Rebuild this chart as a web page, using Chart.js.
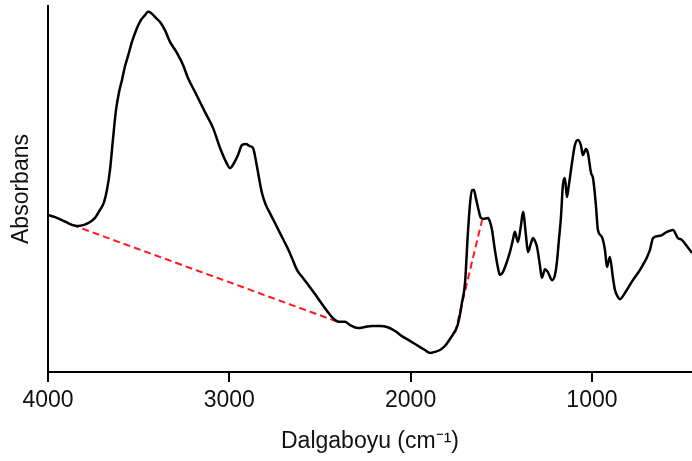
<!DOCTYPE html>
<html>
<head>
<meta charset="utf-8">
<script src="https://cdn.jsdelivr.net/npm/chart.js@4.4.1/dist/chart.umd.min.js"></script>
<style>
  html, body { margin: 0; padding: 0; background: #ffffff; }
  #wrap { width: 692px; height: 461px; }
</style>
</head>
<body>
<div id="wrap"><canvas id="c" width="692" height="461"></canvas></div>
<script>
// Spectrum (wavenumber cm-1, absorbance in arbitrary units)
const wavenumbers = [
  4000, 3961, 3923, 3890, 3868, 3835, 3801, 3768, 3741, 3713, 3691, 3675, 3658, 3642, 3625, 3608,
  3592, 3575, 3559, 3537, 3509, 3487, 3465, 3449, 3432, 3410, 3382, 3355, 3327, 3289, 3255, 3228,
  3189, 3134, 3090, 3051, 3018, 2996, 2974, 2952, 2930, 2908, 2886, 2869, 2847, 2820, 2798, 2776,
  2748, 2721, 2682, 2654, 2627, 2599, 2572, 2544, 2516, 2489, 2461, 2434, 2406, 2390, 2362, 2334,
  2290, 2252, 2213, 2169, 2130, 2086, 2048, 2004, 1948, 1921, 1893, 1866, 1838, 1811, 1783, 1761,
  1744, 1728, 1717, 1700, 1684, 1673, 1662, 1651, 1640, 1629, 1612, 1595, 1573, 1562, 1551, 1535,
  1518, 1507, 1491, 1469, 1452, 1436, 1425, 1408, 1391, 1380, 1364, 1353, 1336, 1325, 1314, 1303,
  1287, 1276, 1259, 1243, 1220, 1204, 1193, 1182, 1171, 1160, 1149, 1138, 1127, 1110, 1094, 1077,
  1061, 1050, 1033, 1022, 1005, 994, 978, 967, 945, 928, 917, 901, 884, 873, 857, 846,
  818, 774, 735, 680, 663, 625, 586, 553, 526, 504, 481, 448
];
const absorbance = [
  0.429, 0.423, 0.415, 0.407, 0.402, 0.399, 0.402, 0.410, 0.421, 0.443, 0.464, 0.497, 0.552, 0.634, 0.716, 0.765,
  0.798, 0.836, 0.863, 0.902, 0.940, 0.962, 0.975, 0.984, 0.981, 0.970, 0.956, 0.934, 0.902, 0.872, 0.839, 0.803,
  0.765, 0.710, 0.667, 0.612, 0.574, 0.557, 0.571, 0.593, 0.620, 0.623, 0.617, 0.612, 0.560, 0.489, 0.456, 0.434,
  0.407, 0.380, 0.342, 0.311, 0.279, 0.260, 0.243, 0.224, 0.205, 0.186, 0.167, 0.150, 0.139, 0.137, 0.137, 0.128,
  0.120, 0.123, 0.126, 0.126, 0.123, 0.112, 0.098, 0.085, 0.068, 0.060, 0.052, 0.055, 0.060, 0.071, 0.090, 0.107,
  0.123, 0.156, 0.189, 0.243, 0.380, 0.456, 0.497, 0.497, 0.475, 0.451, 0.421, 0.418, 0.421, 0.410, 0.388, 0.333,
  0.284, 0.265, 0.273, 0.301, 0.328, 0.361, 0.383, 0.355, 0.402, 0.437, 0.374, 0.328, 0.352, 0.366, 0.358, 0.342,
  0.292, 0.257, 0.281, 0.273, 0.251, 0.265, 0.301, 0.361, 0.421, 0.511, 0.530, 0.478, 0.511, 0.571, 0.620, 0.634,
  0.620, 0.593, 0.609, 0.598, 0.544, 0.530, 0.456, 0.388, 0.369, 0.333, 0.287, 0.314, 0.257, 0.224, 0.205, 0.199,
  0.216, 0.251, 0.279, 0.333, 0.366, 0.372, 0.383, 0.388, 0.366, 0.361, 0.347, 0.325
];

// Red dashed baselines
const baseline1X = [3868, 2401];
const baseline1Y = [0.402, 0.137];
const baseline2X = [1755, 1606];
const baseline2Y = [0.107, 0.415];

// Axis
const xTickValues = [4000, 3000, 2000, 1000];
const xMin = 448, xMax = 4000;
const yMin = 0, yMax = 1;

const FONT = "'Liberation Sans', Arial, Helvetica, sans-serif";

const toPoints = (xs, ys) => xs.map((x, i) => ({ x: x, y: ys[i] }));

new Chart(document.getElementById('c'), {
  type: 'line',
  data: {
    datasets: [
      {
        label: 'Spektrum',
        data: toPoints(wavenumbers, absorbance),
        borderColor: '#000000',
        borderWidth: 2.5,
        pointRadius: 0,
        fill: false,
        cubicInterpolationMode: 'monotone',
        order: 1
      },
      {
        label: 'Taban 1',
        data: toPoints(baseline1X, baseline1Y),
        borderColor: '#ff1a1a',
        borderWidth: 2,
        borderDash: [7, 4],
        pointRadius: 0,
        fill: false,
        order: 2
      },
      {
        label: 'Taban 2',
        data: toPoints(baseline2X, baseline2Y),
        borderColor: '#ff1a1a',
        borderWidth: 2,
        borderDash: [7, 4],
        pointRadius: 0,
        fill: false,
        order: 2
      }
    ]
  },
  options: {
    responsive: false,
    animation: false,
    layout: { padding: { top: 6, right: 0, bottom: 0, left: 0 } },
    plugins: {
      legend: { display: false },
      tooltip: { enabled: false }
    },
    scales: {
      x: {
        type: 'linear',
        reverse: true,
        min: xMin,
        max: xMax,
        afterBuildTicks: (scale) => {
          scale.ticks = xTickValues.map(v => ({ value: v }));
        },
        afterFit: (scale) => { scale.height = 89; },
        grid: {
          display: true,
          drawOnChartArea: false,
          drawTicks: true,
          tickLength: 10,
          color: '#000000',
          lineWidth: 2
        },
        border: { display: true, color: '#000000', width: 2 },
        ticks: {
          color: '#111111',
          padding: 5,
          maxRotation: 0,
          autoSkip: false,
          font: { family: FONT, size: 23 },
          callback: (v) => String(v)
        },
        title: {
          display: true,
          text: 'Dalgaboyu (cm\u207B\u00B9)',
          color: '#111111',
          font: { family: FONT, size: 23 },
          padding: { top: 0, bottom: 6 }
        }
      },
      y: {
        type: 'linear',
        min: yMin,
        max: yMax,
        afterFit: (scale) => { scale.width = 48; },
        grid: { display: false, drawTicks: false },
        border: { display: true, color: '#000000', width: 2 },
        ticks: { display: false },
        title: {
          display: true,
          text: 'Absorbans',
          color: '#111111',
          font: { family: FONT, size: 23 },
          padding: { top: 8, bottom: 0 }
        }
      }
    }
  }
});
</script>
</body>
</html>
